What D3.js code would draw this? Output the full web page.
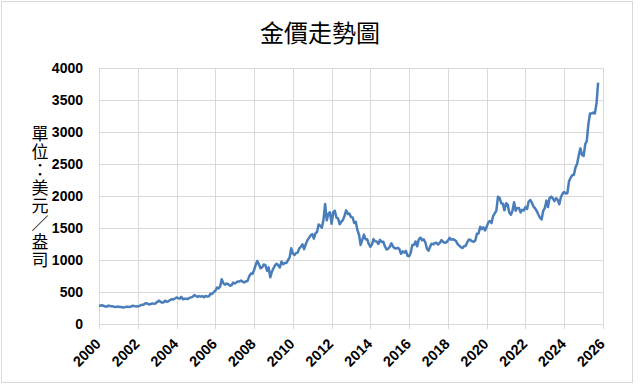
<!DOCTYPE html>
<html>
<head>
<meta charset="utf-8">
<script src="https://cdn.jsdelivr.net/npm/d3@7/dist/d3.min.js"></script>
<style>
  body { margin: 0; background: #fff; }
  svg { display: block; }
</style>
</head>
<body>
<div class="chart"></div>
<script>
// monthly gold price (USD / oz), one value per month starting Jan 2000
var startYear = 2000;
var prices2000s = [
  288, 285, 295, 280, 275, 272, 288, 278, 277, 272, 264, 270,
  272, 265, 265, 258, 263, 270, 268, 265, 275, 285, 279, 274,
  278, 282, 297, 300, 308, 326, 318, 305, 312, 322, 317, 320,
  345, 365, 350, 335, 337, 365, 346, 354, 375, 388, 384, 398,
  415, 403, 396, 424, 388, 394, 395, 391, 408, 416, 426, 453,
  438, 422, 435, 427, 435, 418, 437, 430, 433, 473, 470, 496,
  520, 569, 557, 585, 700, 640, 613, 633, 623, 599, 604, 646,
  632, 650, 665, 663, 679, 659, 650, 666, 673, 743, 789, 783,
  840, 923, 985, 935, 871, 886, 930, 918, 833, 884, 730, 815,
  870, 919, 942, 916, 884, 975, 934, 954, 955, 996, 1040, 1182
];
var prices2010s = [
  1100, 1078, 1108, 1115, 1180, 1207, 1244, 1169, 1246, 1307, 1346, 1383,
  1405, 1333, 1411, 1439, 1556, 1536, 1505, 1628, 1875, 1620, 1722, 1746,
  1565, 1744, 1770, 1662, 1651, 1558, 1598, 1622, 1692, 1776, 1719, 1726,
  1670, 1664, 1579, 1598, 1467, 1394, 1235, 1313, 1396, 1326, 1324, 1253,
  1205, 1244, 1326, 1291, 1289, 1250, 1315, 1282, 1285, 1216, 1164, 1176,
  1206, 1260, 1214, 1187, 1180, 1190, 1171, 1098, 1135, 1115, 1142, 1065,
  1060, 1118, 1234, 1233, 1290, 1215, 1320, 1351, 1309, 1322, 1277, 1178,
  1146, 1212, 1255, 1245, 1266, 1268, 1242, 1269, 1312, 1283, 1270, 1275,
  1303, 1345, 1318, 1325, 1316, 1298, 1250, 1224, 1201, 1187, 1215, 1222,
  1279, 1321, 1313, 1292, 1284, 1305, 1409, 1414, 1520, 1485, 1511, 1463
];
var prices2020s = [
  1517, 1587, 1609, 1577, 1687, 1730, 1768, 1990, 1968, 1887, 1879, 1776,
  1888, 1863, 1743, 1708, 1769, 1903, 1770, 1814, 1813, 1743, 1783, 1775,
  1829, 1797, 1909, 1937, 1897, 1837, 1807, 1766, 1711, 1661, 1633, 1769,
  1812, 1928, 1827, 1969, 1990, 1963, 1919, 1965, 1940, 1871, 1983, 2036,
  2063, 2039, 2044, 2230, 2286, 2327, 2327, 2447, 2503, 2635, 2744, 2643,
  2625, 2812, 2858, 3124, 3289, 3289, 3303, 3290, 3448, 3770
];
var yearTicks = [2000, 2002, 2004, 2006, 2008, 2010, 2012, 2014, 2016, 2018, 2020, 2022, 2024, 2026];
var priceTicks = [0, 500, 1000, 1500, 2000, 2500, 3000, 3500, 4000];
var title = "金價走勢圖";
var yTitle = "單位：美元／盎司";

function makeChart(){
	var width = 640,
			height = 386;
	var margin = {top: 68, right: 37, bottom: 62, left: 99};

	var prices = prices2000s.concat(prices2010s, prices2020s);
	var data = prices.map(function(p, i){
		return {date: new Date(startYear, i, 1), price: p};
	});

	var svg = d3.select(".chart").append("svg")
			.attr("width", width)
			.attr("height", height);

	svg.append("rect")
			.attr("x", 1.5)
			.attr("y", 1.5)
			.attr("width", 631)
			.attr("height", 381)
			.attr("fill", "#fff")
			.attr("stroke", "#d9d9d9");

	var x = d3.scaleTime()
			.domain([new Date(2000, 0, 1), new Date(2026, 0, 1)])
			.range([margin.left, width - margin.right]);
	var y = d3.scaleLinear()
			.domain([0, 4000])
			.range([height - margin.bottom, margin.top]);

	// grid
	svg.append("g").selectAll("line.h")
			.data(priceTicks)
		.enter().append("line")
			.attr("x1", margin.left)
			.attr("x2", width - margin.right)
			.attr("y1", function(d){ return Math.round(y(d)) + 0.5; })
			.attr("y2", function(d){ return Math.round(y(d)) + 0.5; })
			.attr("stroke", "#d9d9d9")
			.attr("stroke-width", 1);

	svg.append("g").selectAll("line.v")
			.data(yearTicks)
		.enter().append("line")
			.attr("x1", function(d){ return Math.round(x(new Date(d, 0, 1))) + 0.5; })
			.attr("x2", function(d){ return Math.round(x(new Date(d, 0, 1))) + 0.5; })
			.attr("y1", margin.top)
			.attr("y2", height - margin.bottom + 5)
			.attr("stroke", "#d9d9d9")
			.attr("stroke-width", 1);

	// y tick labels
	svg.append("g").selectAll("text")
			.data(priceTicks)
		.enter().append("text")
			.attr("x", margin.left - 16)
			.attr("y", function(d){ return y(d); })
			.attr("dy", "0.36em")
			.attr("text-anchor", "end")
			.style("font-family", "'Liberation Sans', Arial, sans-serif")
			.style("font-weight", "bold")
			.style("font-size", "14px")
			.attr("fill", "#000")
			.text(function(d){ return d; });

	// x tick labels, rotated
	svg.append("g").selectAll("text")
			.data(yearTicks)
		.enter().append("text")
			.attr("transform", function(d){
				return "translate(" + (x(new Date(d, 0, 1)) - 1) + "," + (height - margin.bottom + 17) + ") rotate(-45)";
			})
			.attr("dy", "0.36em")
			.attr("text-anchor", "end")
			.style("font-family", "'Liberation Sans', Arial, sans-serif")
			.style("font-weight", "bold")
			.style("font-size", "14.5px")
			.attr("fill", "#000")
			.text(function(d){ return d; });

	// price line
	var line = d3.line()
			.x(function(d){ return x(d.date); })
			.y(function(d){ return y(d.price); });

	svg.append("path")
			.datum(data)
			.attr("d", line)
			.attr("fill", "none")
			.attr("stroke", "#4a7ebb")
			.attr("stroke-width", 2.5)
			.attr("stroke-linejoin", "round");

	// title
	svg.append("text")
			.attr("x", 320)
			.attr("y", 42)
			.attr("text-anchor", "middle")
			.style("font-family", "'Noto Sans CJK TC', sans-serif")
			.style("font-size", "24px")
			.attr("fill", "#000")
			.text(title);

	// vertical y title, one char per line
	svg.append("g").selectAll("text")
			.data(yTitle.split(""))
		.enter().append("text")
			.attr("x", 40)
			.attr("y", function(d, i){ return 140 + i * 18; })
			.attr("text-anchor", "middle")
			.style("font-family", "'Noto Sans CJK TC', sans-serif")
			.style("font-size", "17px")
			.attr("fill", "#000")
			.text(function(d){ return d; });
}

makeChart();
</script>
</body>
</html>
